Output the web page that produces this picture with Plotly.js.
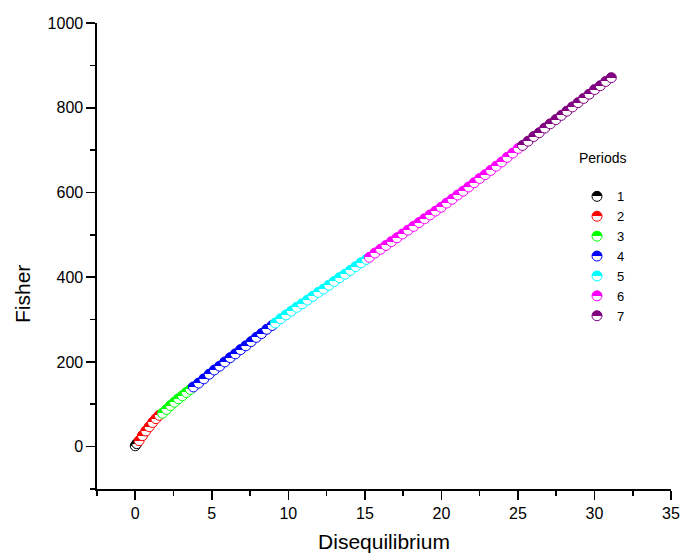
<!DOCTYPE html>
<html>
<head>
<meta charset="utf-8">
<script src="https://cdn.plot.ly/plotly-3.0.1.min.js"></script>
<style>
  html, body { margin: 0; padding: 0; background: #fff; }
  #chart { width: 680px; height: 553px; }
</style>
</head>
<body>
<div id="chart"></div>
<script>
// Period labels and colours
const periodNames = ['1', '2', '3', '4', '5', '6', '7'];
const periodColors = ['#000000', '#FF0000', '#00FF00', '#0000FF', '#00FFFF', '#FF00FF', '#800080'];

// Disequilibrium (x) and Fisher (y) values, per period
const p1x = [0.00, 0.10];
const p1y = [2, 7];

const p2x = [0.25, 0.47, 0.69, 0.91, 1.13, 1.35, 1.57];
const p2y = [14, 26, 37, 47, 57, 66, 74];

const p3x = [1.78, 2.04, 2.30, 2.56, 2.82, 3.08, 3.34, 3.60];
const p3y = [79, 88, 97, 105, 113, 120, 128, 135];

const p4x = [3.80, 4.14, 4.48, 4.83, 5.17, 5.51, 5.85, 6.20, 6.54, 6.88, 7.22, 7.57, 7.91, 8.25, 8.59, 8.94];
const p4y = [141, 150, 160, 171, 181, 190, 200, 210, 219, 229, 238, 248, 258, 267, 277, 286];

const p5x = [9.15, 9.50, 9.85, 10.20, 10.55, 10.90, 11.25, 11.60, 11.95, 12.30, 12.65, 13.00, 13.35, 13.70, 14.05, 14.40, 14.75, 15.10];
const p5y = [292, 302, 311, 320, 329, 337, 346, 355, 364, 372, 381, 390, 399, 407, 416, 425, 434, 442];

const p6x = [15.30, 15.66, 16.02, 16.38, 16.74, 17.10, 17.46, 17.82, 18.18, 18.54, 18.90, 19.26, 19.62, 19.98,
             20.34, 20.70, 21.06, 21.42, 21.78, 22.14, 22.50, 22.86, 23.22, 23.58, 23.94, 24.30, 24.66, 25.02];
const p6y = [447, 457, 466, 475, 484, 493, 502, 511, 520, 529, 538, 547, 556, 565,
             575, 584, 594, 603, 613, 623, 633, 642, 652, 662, 672, 683, 693, 704];

const p7x = [25.30, 25.66, 26.03, 26.39, 26.75, 27.11, 27.48, 27.84, 28.20, 28.56, 28.93, 29.29, 29.65, 30.01, 30.38, 30.74, 31.10];
const p7y = [711, 721, 732, 741, 752, 762, 772, 782, 792, 802, 812, 822, 832, 843, 852, 862, 871];

const xTickVals = [0, 5, 10, 15, 20, 25, 30, 35];
const yTickVals = [0, 200, 400, 600, 800, 1000];

const allX = [p1x, p2x, p3x, p4x, p5x, p6x, p7x];
const allY = [p1y, p2y, p3y, p4y, p5y, p6y, p7y];

const FONT = 'Arial, "Liberation Sans", sans-serif';

const traces = periodNames.map((name, i) => ({
  type: 'scatter',
  mode: 'markers',
  name: name,
  x: allX[i],
  y: allY[i],
  marker: {
    symbol: 'circle',
    size: 10,
    color: periodColors[i],
    line: { color: periodColors[i], width: 1 },
    gradient: { type: 'vertical', color: '#FFFFFF' }
  },
  hoverinfo: 'x+y+name'
}));

const axisCommon = {
  showgrid: false,
  zeroline: false,
  showline: true,
  linecolor: '#000',
  linewidth: 1.6,
  ticks: 'outside',
  ticklen: 9,
  tickwidth: 1.6,
  tickcolor: '#000',
  tickfont: { family: FONT, size: 16, color: '#000' },
  mirror: false
};

const layout = {
  width: 680,
  height: 553,
  paper_bgcolor: '#fff',
  plot_bgcolor: '#fff',
  margin: { l: 97, r: 9, t: 23, b: 64 },
  font: { family: FONT, color: '#000' },
  showlegend: true,
  xaxis: Object.assign({}, axisCommon, {
    range: [-2.5, 35],
    tickmode: 'array',
    tickvals: xTickVals,
    ticktext: xTickVals.map(String),
    minor: { tickmode: 'linear', tick0: 0, dtick: 2.5, ticks: 'outside', ticklen: 5, tickwidth: 1.6, tickcolor: '#000' },
    title: { text: 'Disequilibrium', font: { family: FONT, size: 21, color: '#000' }, standoff: 14 },
    automargin: false
  }),
  yaxis: Object.assign({}, axisCommon, {
    range: [-100, 1000],
    tickmode: 'array',
    tickvals: yTickVals,
    ticktext: yTickVals.map(String),
    minor: { tickmode: 'linear', tick0: 0, dtick: 100, ticks: 'outside', ticklen: 5, tickwidth: 1.6, tickcolor: '#000' },
    automargin: false
  }),
  annotations: [{
    text: 'Fisher',
    textangle: -90,
    xref: 'paper', yref: 'paper',
    x: (22 - 97) / 574, y: (489 - 294) / 466,
    xanchor: 'center', yanchor: 'middle',
    showarrow: false,
    font: { family: FONT, size: 21, color: '#000' }
  }],
  legend: {
    x: (577 - 97) / 574,
    y: (489 - 145) / 466,
    xanchor: 'left',
    yanchor: 'top',
    bgcolor: 'rgba(0,0,0,0)',
    borderwidth: 0,
    font: { family: FONT, size: 13, color: '#000' },
    title: { text: 'Periods<br> ', font: { family: FONT, size: 14, color: '#000' } },
    traceorder: 'normal'
  }
};

function hardenGradients() {
  document.querySelectorAll('#chart linearGradient').forEach(g => {
    g.querySelectorAll('stop').forEach(s => s.setAttribute('offset', '50%'));
  });
}

Plotly.newPlot('chart', traces, layout, { displayModeBar: false, staticPlot: true })
  .then(() => { hardenGradients(); });
</script>
</body>
</html>
